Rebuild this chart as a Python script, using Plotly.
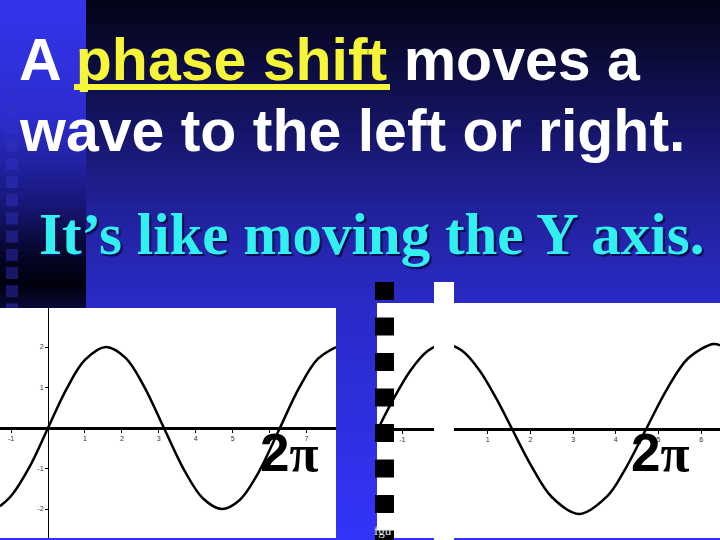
import plotly.graph_objects as go

W, H = 720, 540

# ---- data ----
left_x = [-1.3, -1.0, -0.5, 0.0, 0.5, 1.0, 1.57, 2.1, 2.6, 3.14, 3.7, 4.2, 4.71, 5.2, 5.7, 6.28, 6.8, 7.3, 7.8]
left_y = [-1.93, -1.68, -0.96, 0.0, 0.96, 1.68, 2.0, 1.73, 1.03, 0.0, -1.06, -1.74, -2.0, -1.77, -1.10, 0.0, 0.99, 1.70, 2.0]

right_x = [-1.6, -1.2, -0.8, -0.4, 0.0, 0.4, 0.8, 1.2, 1.57, 2.0, 2.5, 3.14, 3.8, 4.2, 4.71, 5.2, 5.7, 6.28, 6.44]
right_y = [-0.06, 0.72, 1.39, 1.84, 2.0, 1.84, 1.39, 0.72, 0.0, -0.83, -1.60, -2.0, -1.58, -0.98, 0.0, 0.94, 1.67, 2.0, 1.97]

left_xticks = [-1, 1, 2, 3, 4, 5, 6, 7]
left_yticks = [-2, -1, 1, 2]
right_xticks = [-1, 1, 2, 3, 4, 5, 6]

title_line1 = "A <span style='color:#f5f53a'>phase shift</span> moves a"
title_line2 = "wave to the left or right."
subtitle = "It’s like moving the Y axis."
label_2pi = "2<span style='font-family:Liberation Serif'>π</span>"

# ---- helpers (pixel -> paper) ----
def px(x):
    return x / W

def py(y):
    return 1 - y / H

def lerp_color(stops, y):
    for (y0, c0), (y1, c1) in zip(stops, stops[1:]):
        if y0 <= y <= y1:
            t = (y - y0) / (y1 - y0) if y1 > y0 else 0
            return tuple(int(round(a + (b - a) * t)) for a, b in zip(c0, c1))
    return stops[-1][1] if y > stops[-1][0] else stops[0][1]

def rgb(c):
    return "rgb(%d,%d,%d)" % c

shapes = []
# main gradient background
main_stops = [(0, (3, 3, 22)), (100, (17, 17, 85)), (200, (32, 32, 150)), (300, (42, 42, 198)), (540, (52, 52, 250))]
for i in range(0, H, 6):
    c = lerp_color(main_stops, i + 3)
    shapes.append(dict(type="rect", xref="paper", yref="paper", x0=0, x1=1,
                       y0=py(i + 7), y1=py(i), fillcolor=rgb(c), line_width=0, layer="below"))
# left strip gradient
strip_stops = [(0, (52, 52, 238)), (120, (44, 44, 205)), (200, (24, 24, 125)), (255, (6, 6, 40)), (285, (0, 0, 12)), (310, (10, 10, 60))]
for i in range(0, 310, 4):
    c = lerp_color(strip_stops, i + 2)
    shapes.append(dict(type="rect", xref="paper", yref="paper", x0=0, x1=px(86),
                       y0=py(i + 5), y1=py(i), fillcolor=rgb(c), line_width=0, layer="below"))
# small squares in the strip
yy = 85.0
while yy < 305:
    c = lerp_color(strip_stops, yy + 6)
    c2 = tuple(int(a * 0.55 + b * 0.45) for a, b in zip(c, (50, 50, 200)))
    shapes.append(dict(type="rect", xref="paper", yref="paper", x0=px(6), x1=px(18),
                       y0=py(yy + 12), y1=py(yy), fillcolor=rgb(c2), line_width=0, layer="below"))
    yy += 18.2
# white plot panels
shapes.append(dict(type="rect", xref="paper", yref="paper", x0=0, x1=px(336), y0=py(538), y1=py(308),
                   fillcolor="white", line_width=0, layer="below"))
shapes.append(dict(type="rect", xref="paper", yref="paper", x0=px(377), x1=1, y0=py(538), y1=py(303),
                   fillcolor="white", line_width=0, layer="below"))
# white strip hiding the old y axis
shapes.append(dict(type="rect", xref="paper", yref="paper", x0=px(434), x1=px(454), y0=0, y1=py(282),
                   fillcolor="white", line_width=0, layer="above"))
# column of black squares
yy = 282.0
while yy < 540:
    shapes.append(dict(type="rect", xref="paper", yref="paper", x0=px(375), x1=px(394),
                       y0=py(min(yy + 18, 540)), y1=py(yy), fillcolor="black", line_width=0, layer="above"))
    yy += 35.5
# underline of "phase shift"
shapes.append(dict(type="rect", xref="paper", yref="paper", x0=px(74), x1=px(390), y0=py(90), y1=py(84),
                   fillcolor="#f5f53a", line_width=0, layer="above"))

# ---- axes geometry ----
L_xd = [0, px(336)]
L_yd = [py(538), py(308)]
L_xr = [-1.30, 7.80]
L_yr = [-2.716, 2.963]
R_xd = [px(377), 1]
R_yd = [py(538), py(303)]
R_xr = [-1.593, 6.44]
R_yr = [-2.565, 2.965]

def zero_pos(dom, rng):
    return dom[0] + (0 - rng[0]) / (rng[1] - rng[0]) * (dom[1] - dom[0])

tickfont = dict(family="Liberation Sans", size=7, color="#333333")

fig = go.Figure()
fig.add_trace(go.Scatter(x=left_x, y=left_y, mode="lines", line=dict(color="black", width=2.5, shape="spline"),
                         xaxis="x", yaxis="y", hoverinfo="skip", cliponaxis=True))
fig.add_trace(go.Scatter(x=right_x, y=right_y, mode="lines", line=dict(color="black", width=2.5, shape="spline"),
                         xaxis="x2", yaxis="y2", hoverinfo="skip", cliponaxis=True))

common = dict(showgrid=False, zeroline=False, fixedrange=True, ticks="outside", ticklen=3,
              tickcolor="black", tickwidth=1, tickfont=tickfont, linecolor="black")

fig.update_layout(
    width=W, height=H, margin=dict(l=0, r=0, t=0, b=0),
    paper_bgcolor="rgb(20,20,90)", plot_bgcolor="rgba(0,0,0,0)",
    showlegend=False,
    xaxis=dict(domain=L_xd, range=L_xr, anchor="free", position=zero_pos(L_yd, L_yr),
               showline=True, linewidth=3, tickvals=left_xticks, ticktext=[str(v) for v in left_xticks], **common),
    yaxis=dict(domain=L_yd, range=L_yr, anchor="free", position=zero_pos(L_xd, L_xr),
               showline=True, linewidth=1, tickvals=left_yticks, ticktext=[str(v) for v in left_yticks], **common),
    xaxis2=dict(domain=R_xd, range=R_xr, anchor="free", position=zero_pos(R_yd, R_yr),
                showline=True, linewidth=3, tickvals=right_xticks, ticktext=[str(v) for v in right_xticks], **common),
    yaxis2=dict(domain=R_yd, range=R_yr, anchor="x2", visible=False, fixedrange=True),
    shapes=shapes,
)

ann = []
ann.append(dict(text=title_line1, x=px(17), y=py(80 - 0.3465 * 59), xref="paper", yref="paper",
                xanchor="left", yanchor="middle", showarrow=False,
                font=dict(family="Liberation Sans", size=59, color="white", weight="bold")))
ann.append(dict(text=title_line2, x=px(17), y=py(151 - 0.3465 * 59), xref="paper", yref="paper",
                xanchor="left", yanchor="middle", showarrow=False,
                font=dict(family="Liberation Sans", size=59, color="white", weight="bold")))
ann.append(dict(text=subtitle, x=px(37), y=py(254 - 0.3375 * 59), xref="paper", yref="paper",
                xanchor="left", yanchor="middle", showarrow=False,
                font=dict(family="Liberation Serif", size=59, color="#33f0f0", weight="bold",
                          shadow="2px 2px 1px #0a0a50")))
for cx in (289, 660):
    ann.append(dict(text=label_2pi, x=px(cx), y=py(471 - 0.3465 * 53), xref="paper", yref="paper",
                    xanchor="center", yanchor="middle", showarrow=False,
                    font=dict(family="Liberation Sans", size=53, color="black", weight="bold")))
ann.append(dict(text="fgu", x=px(372), y=py(535 - 0.3375 * 13), xref="paper", yref="paper",
                xanchor="left", yanchor="middle", showarrow=False,
                font=dict(family="Liberation Serif", size=13, color="#e8e8e8")))
fig.update_layout(annotations=ann)

fig.write_html("out.html", config={"displayModeBar": False, "staticPlot": True},
               post_script="document.body.style.margin='0';document.body.style.padding='0';")
